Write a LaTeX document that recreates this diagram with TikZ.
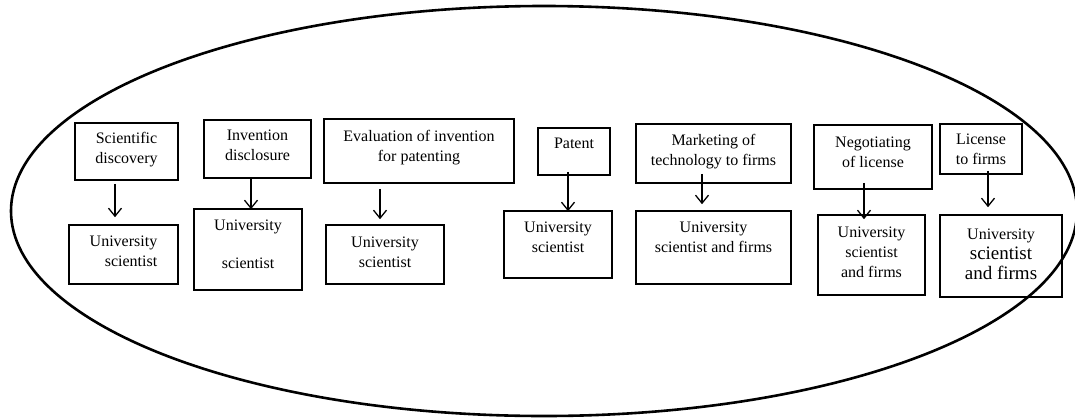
\documentclass[tikz,border=0pt]{standalone}
\usepackage{fontspec}
\setmainfont{Liberation Serif}
\usepackage{tikz}
\usetikzlibrary{arrows.meta}
\newcommand{\boxfont}{\fontsize{16}{20}\selectfont}
\newcommand{\bigline}{\fontsize{19}{23}\selectfont}

\begin{document}
\begin{tikzpicture}[
  x=1pt,y=-1pt,
  box/.style={draw,line width=1.6pt,align=center,font=\boxfont,inner sep=2pt},
  lift/.style={text depth=#1},
  arr/.style={-{Straight Barb[length=8pt,width=13pt,line width=1.3pt]},line width=1.3pt}
]
\useasboundingbox (0,0) rectangle (1075,418);
\draw[line width=2.6pt] (544,211) ellipse [x radius=533,y radius=205];
% upper row
\node[box,minimum width=103pt,minimum height=57pt,lift=8pt] (SD) at (126.5,151.5) {Scientific\\discovery};
\node[box,minimum width=107pt,minimum height=58pt,lift=8pt] (ID) at (257.5,149) {Invention\\disclosure};
\node[box,minimum width=190pt,minimum height=64pt,lift=10pt] (EV) at (419,151) {Evaluation of invention\\for patenting};
\node[box,minimum width=72pt,minimum height=47pt,lift=16pt] (PA) at (574,151.5) {Patent};
\node[box,minimum width=155pt,minimum height=59pt,lift=8pt] (MK) at (713.5,153.5) {Marketing of\\technology to firms};
\node[box,minimum width=118pt,minimum height=64pt,lift=10pt] (NG) at (873,157) {Negotiating\\of license};
\node[box,minimum width=82pt,minimum height=50pt] (LI) at (981,149) {License\\to firms};
% lower row
\node[box,align=right,minimum width=109pt,minimum height=59pt,lift=6pt] (US1) at (123.5,254.5) {University\\scientist};
\node[box,minimum width=108pt,minimum height=81pt,lift=10pt] (US2) at (248,249.5) {University\\[18pt]scientist};
\node[box,minimum width=118pt,minimum height=59pt,lift=5pt] (US3) at (385,254.5) {University\\scientist};
\node[box,minimum width=108pt,minimum height=67pt,lift=14pt] (US4) at (558,244.5) {University\\scientist};
\node[box,minimum width=155pt,minimum height=73pt,lift=20pt] (US5) at (713.5,247.5) {University\\scientist and firms};
\node[box,minimum width=107pt,minimum height=80pt,lift=6pt] (US6) at (871.5,255) {University\\scientist\\and firms};
\node[box,minimum width=122pt,minimum height=82pt,lift=4pt] (US7) at (1001,256) {University\\{\bigline scientist}\\{\bigline and firms}};
% arrows
\draw[arr] ([shift={(-11.5,3)}]SD.south) -- ([shift={(-8.5,-7)}]US1.north);
\draw[arr] ([shift={(-6.5,0)}]ID.south) -- ([shift={(3,1)}]US2.north);
\draw[arr] ([shift={(-39,5)}]EV.south) -- ([shift={(-5,-5)}]US3.north);
\draw[arr] ([shift={(-6,-4)}]PA.south) -- ([shift={(10,1)}]US4.north);
\draw[arr] ([shift={(-11.5,-10)}]MK.south) -- ([shift={(-11.5,-6)}]US5.north);
\draw[arr] ([shift={(-9,-7)}]NG.south) -- ([shift={(-7.5,5)}]US6.north);
\draw[arr] ([shift={(7,-4)}]LI.south) -- ([shift={(-13,-7)}]US7.north);
\end{tikzpicture}
\end{document}
